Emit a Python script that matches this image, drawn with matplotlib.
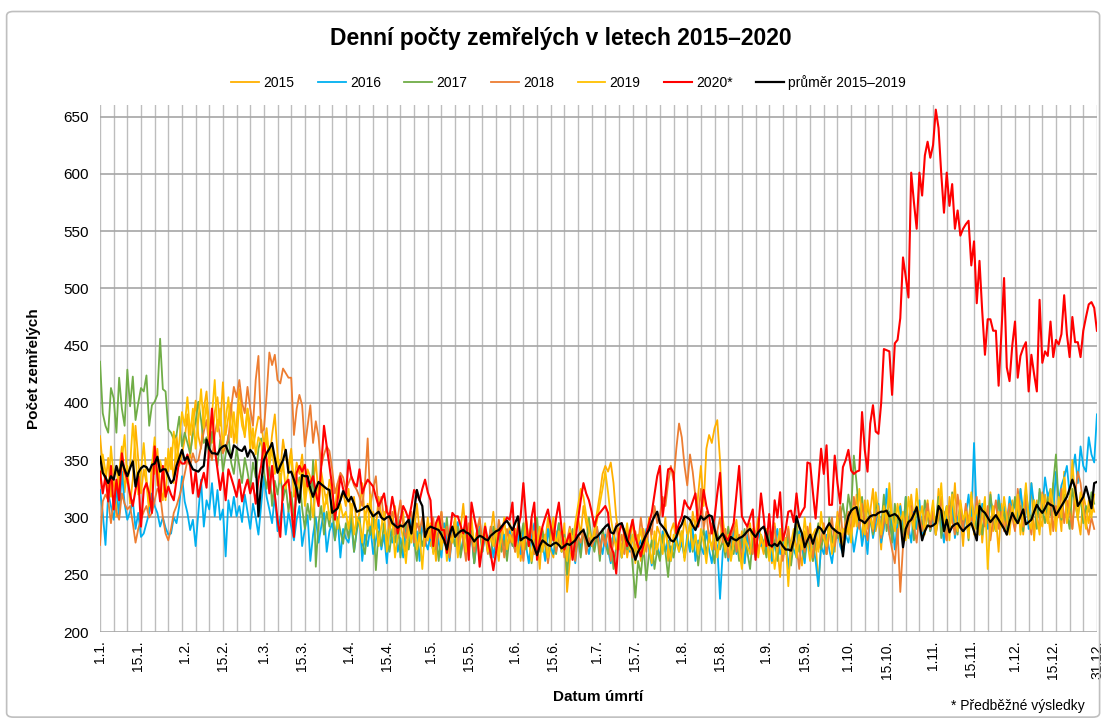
import numpy as np
import pandas as pd
import matplotlib
matplotlib.use("Agg")
import matplotlib.pyplot as plt
from matplotlib.patches import FancyBboxPatch

plt.rcParams['font.family'] = ['Liberation Sans', 'DejaVu Sans']

# daily deaths (1.1. .. 31.12.)
y2015 = [371, 345, 330, 352, 318, 335, 301, 340, 362, 322, 345, 312, 333, 380, 350, 321, 342, 330, 305, 348, 338, 360, 326, 315, 352, 340, 361, 330, 372, 345, 355,
         368, 390, 352, 380, 402, 371, 360, 395, 410, 378, 365, 392, 405, 380, 418, 372, 388, 400, 365, 382, 412, 390, 370, 395, 380, 360, 375, 388,
         385, 362, 378, 350, 372, 390, 355, 340, 368, 352, 345, 360, 330, 348, 338, 355, 320, 342, 335, 328, 350, 318, 340, 325, 312, 333, 320, 305, 330, 315, 322,
         310, 325, 300, 318, 292, 305, 330, 298, 312, 285, 305, 290, 318, 302, 288, 276, 300, 295, 310, 282, 298, 305, 270, 292, 300, 285, 312, 288, 295, 278,
         300, 275, 290, 262, 288, 305, 280, 296, 272, 285, 300, 268, 290, 312, 282, 275, 295, 260, 288, 298, 276, 290, 270, 285, 305, 278, 262, 292, 283, 270, 295,
         285, 270, 295, 262, 280, 300, 275, 288, 268, 282, 255, 290, 278, 300, 272, 265, 288, 280, 270, 295, 235, 262, 278, 290, 300, 285, 310, 295, 282, 275,
         290, 305, 320, 338, 345, 340, 348, 330, 300, 285, 272, 290, 265, 280, 298, 270, 285, 262, 290, 275, 300, 280, 268, 292, 285, 278, 300, 262, 288, 295, 280,
         290, 275, 300, 285, 270, 305, 290, 320, 345, 310, 360, 372, 365, 378, 385, 350, 300, 278, 290, 265, 285, 298, 272, 288, 260, 282, 295, 270, 285, 300, 278,
         268, 290, 282, 260, 295, 275, 248, 285, 270, 292, 265, 280, 300, 272, 258, 288, 276, 295, 262, 280, 240, 275, 290, 268, 298, 282, 270, 305, 288, 275,
         300, 285, 310, 292, 320, 298, 280, 315, 290, 305, 325, 288, 300, 272, 310, 295, 318, 285, 302, 278, 312, 295, 305, 282, 320, 298, 290, 310, 285, 300, 315,
         290, 310, 285, 325, 298, 305, 280, 318, 295, 330, 288, 302, 275, 310, 296, 320, 285, 300, 315, 278, 305, 292, 322, 288, 300, 270, 312, 298, 285, 305,
         315, 290, 305, 325, 285, 310, 298, 330, 280, 315, 300, 292, 320, 305, 285, 330, 295, 310, 288, 340, 305, 318, 290, 325, 300, 285, 320, 308, 295, 315, 305]

y2016 = [324, 304, 276, 321, 310, 298, 327, 301, 340, 312, 298, 305, 315, 290, 304, 283, 286, 295, 304, 321, 310, 304, 292, 300, 291, 285, 286, 300, 295, 310, 336,
         314, 304, 289, 298, 275, 304, 333, 292, 315, 307, 330, 301, 324, 298, 307, 266, 315, 301, 318, 301, 310, 296, 320, 305, 290, 312, 300, 285, 310,
         336, 318, 307, 295, 320, 288, 300, 312, 285, 305, 292, 280, 298, 310, 275, 290, 302, 262, 285, 300, 278, 292, 305, 270, 288, 295, 280, 300, 265, 290, 282,
         278, 295, 270, 288, 300, 262, 285, 275, 292, 268, 280, 298, 272, 285, 260, 290, 278, 295, 270, 282, 265, 292, 280, 300, 275, 288, 262, 295, 280, 272,
         285, 270, 290, 278, 265, 295, 280, 262, 288, 275, 296, 268, 282, 290, 272, 285, 260, 278, 292, 270, 285, 275, 290, 265, 280, 295, 272, 285, 270, 288, 278,
         272, 285, 268, 290, 275, 260, 282, 295, 270, 285, 278, 262, 290, 275, 268, 282, 295, 270, 278, 265, 288, 275, 260, 285, 272, 290, 278, 268, 282, 275,
         290, 280, 268, 285, 272, 260, 288, 275, 282, 265, 278, 290, 270, 285, 262, 275, 280, 268, 290, 272, 258, 282, 275, 265, 288, 270, 280, 262, 275, 285, 270,
         278, 265, 285, 270, 290, 262, 280, 275, 268, 288, 272, 260, 282, 275, 229, 270, 285, 262, 278, 290, 268, 275, 282, 260, 285, 272, 278, 265, 290, 275, 280,
         270, 285, 262, 278, 290, 268, 275, 282, 255, 280, 272, 265, 288, 275, 260, 285, 270, 278, 262, 240, 275, 268, 285, 272, 260, 280, 290, 275, 268, 285,
         278, 292, 270, 285, 300, 275, 290, 268, 305, 282, 295, 312, 278, 290, 325, 285, 300, 272, 295, 310, 285, 318, 292, 278, 305, 290, 315, 282, 298, 308, 288,
         300, 285, 310, 295, 278, 305, 290, 315, 282, 298, 310, 288, 302, 320, 295, 365, 300, 285, 312, 298, 290, 315, 305, 288, 320, 300, 310, 292, 318, 305,
         312, 295, 325, 305, 318, 290, 330, 310, 300, 322, 308, 335, 318, 325, 305, 340, 315, 328, 335, 345, 320, 338, 355, 330, 362, 345, 340, 370, 355, 348, 390]

y2017 = [436, 391, 380, 374, 413, 404, 374, 422, 395, 380, 429, 397, 423, 385, 400, 413, 410, 424, 380, 398, 401, 407, 456, 412, 410, 377, 374, 368, 372, 388, 362,
         374, 365, 356, 372, 384, 401, 385, 365, 370, 352, 375, 360, 345, 368, 340, 355, 372, 348, 338, 360, 345, 330, 352, 340, 325, 348, 335, 360,
         369, 340, 325, 345, 310, 332, 320, 338, 315, 328, 305, 322, 300, 318, 335, 308, 290, 312, 298, 350, 257, 295, 310, 285, 305, 292, 315, 280, 300, 288, 277,
         295, 282, 305, 270, 290, 300, 278, 268, 292, 285, 300, 254, 288, 275, 295, 282, 270, 290, 278, 300, 265, 285, 295, 272, 288, 280, 262, 292, 275, 285,
         280, 292, 270, 285, 262, 290, 278, 300, 268, 285, 275, 292, 265, 280, 295, 272, 288, 260, 282, 290, 270, 285, 278, 265, 292, 275, 288, 270, 280, 262, 285,
         275, 290, 268, 282, 295, 272, 285, 260, 278, 300, 270, 288, 275, 262, 290, 280, 268, 295, 272, 285, 250, 278, 290, 270, 282, 265, 288, 275, 300, 280,
         270, 285, 262, 290, 278, 268, 282, 255, 275, 290, 265, 280, 272, 288, 258, 230, 262, 250, 275, 245, 268, 280, 255, 272, 262, 285, 270, 248, 275, 265, 280,
         272, 288, 265, 280, 295, 270, 285, 258, 278, 290, 268, 282, 275, 260, 288, 272, 280, 265, 292, 275, 268, 285, 262, 278, 290, 270, 255, 282, 275, 268, 285,
         278, 265, 288, 272, 280, 262, 290, 275, 268, 285, 258, 278, 292, 270, 282, 265, 288, 275, 262, 280, 295, 272, 285, 268, 300, 278, 290, 282, 300, 312,
         295, 320, 305, 354, 330, 300, 318, 290, 310, 298, 285, 315, 300, 292, 320, 288, 305, 278, 312, 295, 300, 285, 318, 292, 305, 280, 310, 298, 290, 315, 300,
         288, 305, 295, 318, 282, 300, 310, 290, 322, 298, 285, 312, 295, 305, 280, 318, 300, 290, 312, 285, 308, 295, 320, 300, 288, 315, 298, 305, 290, 310,
         300, 318, 295, 310, 288, 322, 305, 298, 315, 290, 325, 308, 295, 318, 302, 330, 355, 310, 298, 320, 305, 290, 325, 312, 300, 318, 295, 310, 305, 322, 312]

y2018 = [276, 314, 320, 315, 295, 315, 305, 298, 321, 312, 307, 310, 295, 278, 290, 298, 305, 310, 300, 304, 315, 325, 321, 300, 286, 280, 290, 304, 310, 318, 327,
         338, 350, 345, 356, 348, 350, 362, 375, 385, 360, 350, 372, 385, 370, 356, 362, 368, 395, 414, 405, 420, 400, 391, 414, 395, 380, 420, 441,
         374, 377, 407, 444, 433, 442, 420, 417, 430, 426, 422, 422, 372, 395, 407, 398, 362, 380, 398, 365, 384, 370, 345, 355, 362, 358, 342, 321, 330, 339, 335,
         324, 330, 336, 328, 324, 318, 310, 330, 369, 310, 325, 336, 305, 318, 298, 310, 290, 305, 285, 300, 315, 292, 282, 298, 305, 278, 295, 288, 300, 275,
         290, 282, 300, 272, 288, 305, 278, 292, 265, 285, 298, 275, 290, 280, 262, 295, 282, 270, 288, 300, 275, 285, 268, 292, 280, 272, 298, 285, 265, 290, 278,
         285, 270, 292, 280, 262, 288, 275, 298, 268, 282, 290, 272, 285, 260, 278, 295, 270, 282, 288, 265, 280, 292, 275, 262, 285, 278, 290, 268, 282, 275,
         280, 292, 268, 285, 275, 290, 262, 280, 295, 272, 285, 268, 290, 278, 265, 288, 275, 300, 282, 270, 295, 285, 310, 295, 302, 318, 310, 330, 345, 332, 360,
         382, 370, 345, 328, 355, 340, 318, 300, 325, 290, 305, 280, 295, 272, 288, 300, 278, 290, 265, 282, 295, 270, 285, 262, 280, 292, 275, 268, 288, 272, 280,
         275, 288, 265, 280, 292, 270, 285, 262, 278, 290, 268, 282, 275, 255, 285, 270, 292, 278, 265, 288, 272, 280, 295, 268, 285, 300, 275, 290, 310, 282,
         295, 305, 285, 318, 300, 290, 312, 295, 280, 305, 288, 300, 310, 282, 295, 305, 285, 272, 260, 290, 235, 275, 300, 285, 310, 292, 278, 305, 288, 298, 312,
         290, 305, 285, 300, 318, 292, 280, 310, 298, 285, 320, 302, 290, 312, 288, 300, 295, 318, 285, 305, 292, 310, 280, 300, 315, 290, 305, 288, 298, 312,
         300, 288, 325, 305, 292, 318, 298, 285, 312, 300, 290, 322, 305, 295, 318, 288, 310, 300, 325, 295, 315, 305, 290, 320, 340, 330, 310, 295, 285, 300, 290]

y2019 = [330, 355, 340, 318, 362, 335, 345, 320, 350, 372, 330, 345, 382, 355, 320, 340, 365, 335, 310, 345, 370, 328, 350, 338, 315, 360, 342, 375, 348, 365, 392,
         380, 405, 372, 395, 360, 385, 412, 378, 400, 365, 390, 420, 375, 395, 360, 385, 405, 370, 392, 365, 400, 380, 372, 395, 360, 378, 355, 370,
         365, 350, 372, 345, 360, 338, 355, 330, 348, 325, 340, 355, 318, 335, 325, 345, 310, 330, 320, 300, 325, 312, 335, 305, 320, 298, 315, 305, 290, 312, 300,
         305, 290, 312, 285, 300, 295, 278, 305, 290, 320, 282, 298, 275, 292, 305, 270, 288, 300, 265, 285, 295, 280, 260, 290, 278, 300, 272, 285, 255, 290,
         280, 295, 268, 285, 300, 272, 290, 262, 285, 278, 298, 265, 282, 290, 270, 285, 300, 275, 288, 262, 280, 295, 270, 285, 275, 290, 268, 282, 300, 272, 285,
         278, 290, 265, 285, 272, 298, 280, 262, 288, 275, 292, 270, 285, 265, 280, 300, 275, 288, 270, 282, 262, 290, 278, 295, 310, 325, 318, 302, 290, 280,
         285, 298, 312, 325, 340, 322, 300, 285, 272, 290, 265, 280, 295, 272, 285, 260, 278, 290, 268, 282, 275, 260, 288, 272, 285, 268, 290, 275, 262, 285, 278,
         270, 288, 262, 280, 295, 272, 285, 268, 290, 278, 260, 285, 272, 290, 265, 280, 295, 270, 285, 262, 278, 290, 272, 255, 282, 275, 268, 290, 280, 265, 285,
         272, 288, 262, 280, 255, 275, 290, 268, 282, 240, 278, 290, 265, 285, 272, 300, 278, 262, 285, 290, 270, 305, 282, 275, 295, 268, 285, 300, 278, 290,
         285, 300, 278, 310, 292, 325, 298, 285, 315, 300, 290, 322, 305, 285, 310, 295, 330, 300, 288, 312, 295, 305, 280, 318, 300, 290, 325, 298, 310, 285, 305,
         298, 315, 285, 305, 330, 292, 310, 280, 320, 300, 288, 315, 298, 305, 282, 322, 295, 310, 285, 300, 318, 255, 295, 310, 288, 305, 292, 318, 300, 285,
         310, 295, 320, 285, 305, 330, 298, 290, 315, 300, 285, 320, 305, 295, 325, 310, 288, 318, 300, 335, 295, 310, 350, 315, 298, 322, 305, 290, 315, 300, 320]

y2020 = [340, 321, 336, 314, 345, 307, 333, 315, 356, 340, 333, 320, 310, 324, 336, 292, 324, 330, 321, 304, 362, 336, 314, 345, 318, 327, 320, 315, 333, 350,
         347, 347, 355, 345, 321, 340, 318, 330, 339, 326, 364, 395, 360, 342, 324, 339, 315, 342, 335, 327, 318, 333, 314, 325, 333, 321, 330, 312, 333, 345,
         365, 350, 321, 345, 320, 298, 283, 327, 330, 333, 310, 283, 339, 345, 340, 346, 327, 330, 336, 322, 310, 345, 380, 362, 345, 327, 298, 315, 336, 325,
         318, 350, 336, 330, 327, 342, 321, 328, 333, 330, 327, 318, 310, 315, 321, 305, 301, 318, 305, 286, 298, 310, 305, 298, 310, 324, 320, 315, 325, 333,
         322, 315, 275, 295, 301, 289, 289, 269, 285, 304, 301, 301, 293, 286, 301, 263, 313, 300, 289, 257, 275, 292, 280, 269, 254, 270, 286, 290, 295, 300,
         298, 313, 275, 290, 301, 330, 298, 275, 300, 313, 263, 280, 292, 300, 307, 293, 280, 300, 313, 290, 272, 280, 286, 263, 280, 298, 315, 330, 321, 315,
         305, 292, 301, 304, 307, 310, 304, 275, 269, 251, 286, 295, 285, 275, 288, 298, 283, 275, 266, 276, 286, 295, 304, 320, 336, 345, 301, 320, 342, 343,
         339, 286, 295, 301, 315, 310, 307, 314, 321, 292, 304, 324, 310, 301, 286, 300, 321, 339, 286, 283, 280, 288, 295, 320, 345, 301, 296, 292, 300, 307,
         263, 290, 321, 300, 275, 303, 274, 315, 300, 322, 280, 289, 305, 306, 296, 321, 300, 305, 309, 348, 347, 322, 299, 330, 360, 338, 363, 311, 311, 354,
         330, 312, 344, 350, 359, 341, 338, 340, 341, 392, 359, 340, 382, 398, 375, 373, 400, 447, 446, 445, 407, 452, 455, 474, 527, 510, 492, 601, 575, 552,
         601, 581, 616, 628, 614, 625, 656, 640, 600, 566, 601, 572, 591, 552, 568, 546, 552, 556, 559, 520, 541, 487, 524, 480, 442, 473, 473, 463, 463, 415,
         460, 509, 431, 419, 450, 471, 422, 441, 448, 453, 410, 442, 425, 410, 490, 435, 445, 441, 471, 440, 455, 451, 460, 494, 460, 440, 475, 453, 453, 440,
         463, 475, 486, 488, 483, 463]

prumer = [353, 339, 335, 330, 336, 333, 345, 337, 349, 342, 336, 343, 349, 327, 339, 343, 345, 344, 340, 346, 347, 353, 340, 342, 342, 336, 330, 333, 345, 352,
          359, 350, 353, 347, 342, 341, 340, 343, 345, 368, 360, 356, 356, 355, 360, 362, 363, 357, 352, 363, 361, 359, 358, 362, 353, 359, 356, 350, 301, 330,
          350, 356, 360, 365, 352, 339, 345, 350, 359, 339, 340, 333, 325, 313, 337, 336, 336, 325, 318, 325, 331, 329, 327, 325, 324, 304, 306, 308, 315, 323,
          318, 314, 318, 312, 305, 306, 307, 309, 310, 305, 301, 303, 305, 300, 298, 300, 301, 295, 293, 291, 293, 292, 295, 298, 286, 305, 324, 315, 310, 283,
          290, 292, 291, 290, 289, 285, 280, 272, 285, 292, 283, 286, 288, 289, 287, 286, 283, 279, 282, 284, 283, 281, 280, 284, 286, 288, 289, 292, 295, 297,
          293, 289, 295, 301, 280, 282, 283, 281, 280, 274, 267, 275, 280, 278, 276, 275, 277, 278, 276, 273, 275, 277, 276, 278, 280, 284, 287, 289, 282, 275,
          279, 282, 283, 286, 289, 292, 294, 287, 286, 292, 294, 295, 288, 280, 276, 272, 263, 270, 274, 280, 285, 289, 296, 301, 305, 295, 292, 289, 284, 280,
          279, 283, 290, 294, 301, 300, 298, 293, 289, 295, 301, 298, 300, 302, 301, 290, 280, 283, 286, 280, 275, 283, 281, 280, 282, 283, 285, 288, 290, 286,
          283, 287, 290, 292, 285, 276, 275, 277, 275, 279, 275, 272, 272, 271, 280, 301, 292, 286, 274, 280, 285, 277, 285, 292, 290, 286, 291, 295, 291, 289,
          287, 286, 266, 290, 301, 306, 308, 309, 298, 297, 295, 298, 301, 302, 302, 304, 305, 305, 306, 301, 302, 303, 301, 297, 274, 290, 296, 298, 303, 309,
          295, 280, 288, 293, 292, 293, 295, 310, 306, 288, 298, 287, 292, 294, 295, 291, 288, 291, 293, 295, 288, 280, 310, 306, 304, 300, 296, 299, 302, 298,
          294, 290, 285, 296, 304, 299, 295, 301, 307, 294, 296, 298, 305, 311, 307, 304, 308, 313, 311, 310, 302, 306, 310, 314, 318, 325, 333, 326, 310, 314,
          318, 327, 318, 308, 330, 331]

lens = {n: len(v) for n, v in [("15", y2015), ("16", y2016), ("17", y2017), ("18", y2018),
                               ("19", y2019), ("20", y2020), ("p", prumer)]}
if lens != {"15": 365, "16": 366, "17": 365, "18": 365, "19": 365, "20": 366, "p": 366}:
    raise SystemExit(f"LENGTHS {lens}")

series = [
    ("2015", y2015, "#FFB000", 1.3),
    ("2016", y2016, "#00B0F0", 1.3),
    ("2017", y2017, "#70AD47", 1.3),
    ("2018", y2018, "#ED7D31", 1.3),
    ("2019", y2019, "#FFC000", 1.3),
    ("2020*", y2020, "#FF0000", 1.5),
    ("průměr 2015–2019", prumer, "#000000", 1.6),
]

# tick labels at the 1st and 15th of each month (leap year axis)
days = pd.date_range("2020-01-01", "2020-12-31", freq="D")
tick_pos = [i for i, d in enumerate(days) if d.day in (1, 15)] + [len(days) - 1]
tick_lab = [f"{d.day}.{d.month}." for d in days if d.day in (1, 15)] + ["31.12."]

fig = plt.figure(figsize=(11.04, 7.2), dpi=100)
fig.patches.append(FancyBboxPatch((0.006, 0.004), 0.99, 0.98, boxstyle="round,pad=0,rounding_size=0.006",
                                  transform=fig.transFigure, fill=False, edgecolor="#BFBFBF", lw=1.2))
ax = fig.add_axes([0.0906, 0.1222, 0.903, 0.7319])

for name, vals, col, lw in series:
    ax.plot(np.arange(len(vals)), vals, color=col, lw=lw, label=name, solid_joinstyle="round")

# vertical grid every 5 days
for g in np.arange(0, 366, 5):
    ax.axvline(g, color="#BDBDBD", lw=1.0, zorder=0)

ax.set_xlim(0, 365)
ax.set_ylim(200, 660)
ax.set_yticks(np.arange(200, 651, 50))
ax.set_xticks(tick_pos)
ax.set_xticklabels(tick_lab, rotation=90, fontsize=10)
ax.tick_params(axis="x", length=0, pad=6)
ax.tick_params(axis="y", length=0, labelsize=11, pad=8)
ax.grid(axis="y", which="major", color="#A6A6A6", lw=1.2)
ax.set_axisbelow(True)
for s in ax.spines.values():
    s.set_visible(False)

ax.set_ylabel("Počet zemřelých", fontsize=11, fontweight="bold", labelpad=16)
ax.set_xlabel("Datum úmrtí", fontsize=11, fontweight="bold", labelpad=8)

fig.text(0.508, 0.947, "Denní počty zemřelých v letech 2015–2020", ha="center", va="center",
         fontsize=16.5, fontweight="bold")
fig.legend(loc="center", bbox_to_anchor=(0.515, 0.886), ncol=7, frameon=False, fontsize=10,
           handlelength=2.0, handletextpad=0.3, columnspacing=1.7)
fig.text(0.983, 0.019, "* Předběžné výsledky", ha="right", va="center", fontsize=10)

fig.savefig("out.png", dpi=100)
